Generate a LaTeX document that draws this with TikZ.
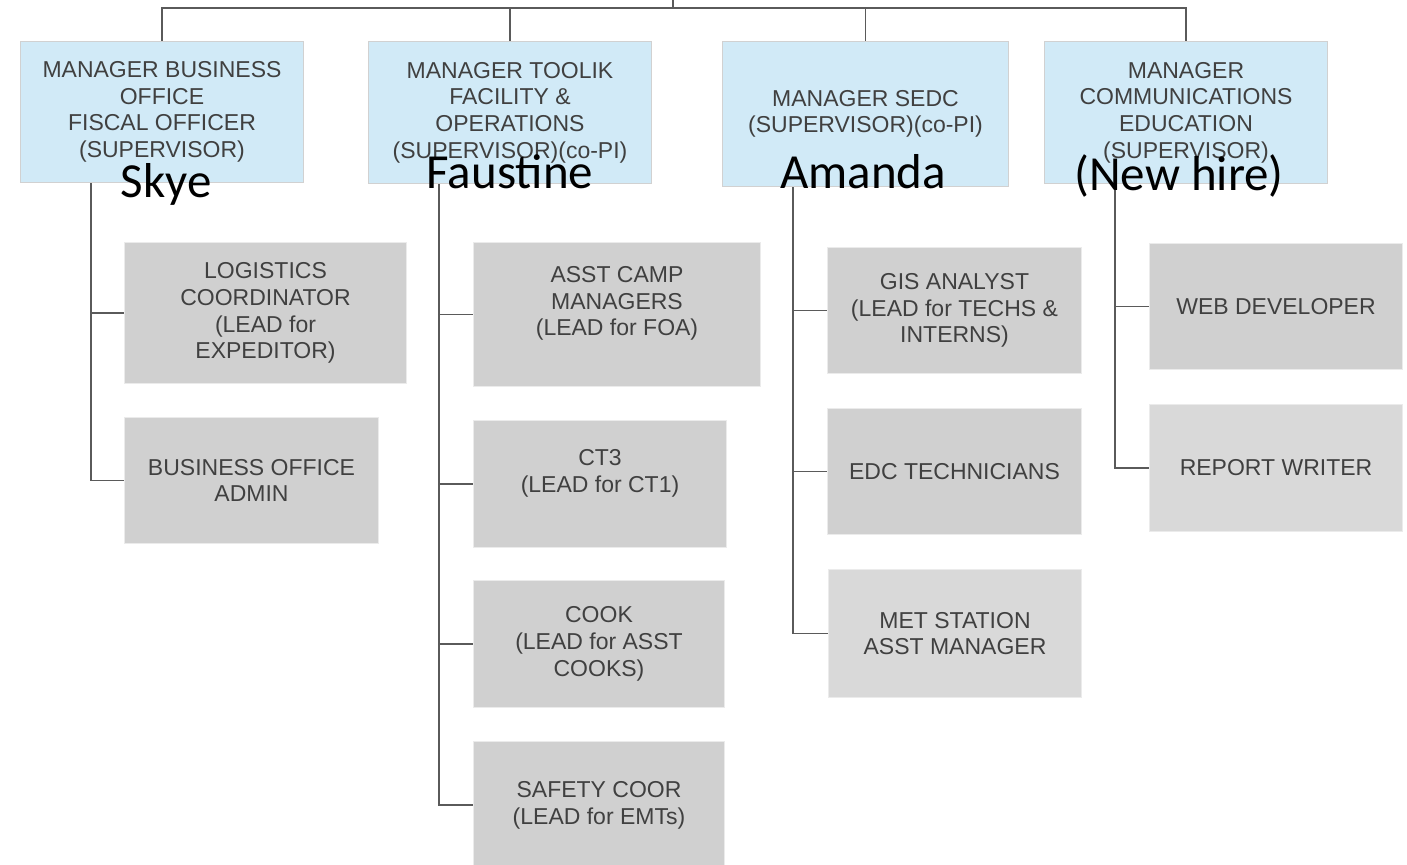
\documentclass[tikz,border=0pt]{standalone}
\usepackage{fontspec}
\setmainfont{Liberation Sans}
\newfontfamily\namefont{Carlito}
\usepackage{xcolor}
\usetikzlibrary{positioning}

\definecolor{mgrblue}{RGB}{209,234,247}
\definecolor{staffgray}{RGB}{208,208,208}
\definecolor{stafflight}{RGB}{217,217,217}
\definecolor{boxtext}{RGB}{64,64,64}
\definecolor{wire}{RGB}{90,90,90}

\begin{document}
\begin{tikzpicture}[x=1pt,y=-1pt,
    block_mgr/.style ={rectangle, draw=black!18, line width=1pt, fill=mgrblue,
      anchor=north west, inner sep=0pt, align=center, text=boxtext,
      font=\fontsize{23}{26.7}\selectfont},
    block_staff/.style ={block_mgr, draw=black!8, fill=staffgray},
    block_light/.style ={block_staff, fill=stafflight},
    who/.style ={anchor=base, inner sep=0pt, font=\namefont\fontsize{49}{52}\selectfont},
      line/.style ={draw, wire, line width=1.2pt}]
    \useasboundingbox (0,0) rectangle (1407,864);
    % managers - row 1
    \node [block_mgr, minimum width=283pt, minimum height=141pt] (mgrBus) at (20,41)
      {MANAGER BUSINESS\\OFFICE\\FISCAL OFFICER\\(SUPERVISOR)};
    \node [block_mgr, minimum width=283pt, minimum height=142pt] (mgrTool) at (368,41)
      {MANAGER TOOLIK\\FACILITY \&\\OPERATIONS\\(SUPERVISOR)(co-PI)};
    \node [block_mgr, minimum width=286pt, minimum height=145pt] (mgrSedc) at (722,41)
      {MANAGER SEDC\\(SUPERVISOR)(co-PI)};
    \node [block_mgr, minimum width=283pt, minimum height=142pt] (mgrComm) at (1044,41)
      {MANAGER\\COMMUNICATIONS\\EDUCATION\\(SUPERVISOR)};
    % business office staff
    \node [block_staff, minimum width=282pt, minimum height=141pt] (logCoord) at (124,242)
      {LOGISTICS\\COORDINATOR\\(LEAD for\\EXPEDITOR)};
    \node [block_staff, minimum width=254pt, minimum height=126pt] (busAdmin) at (124,417)
      {BUSINESS OFFICE\\ADMIN};
    % toolik staff
    \node [block_staff, minimum width=287pt, minimum height=144pt] (asstCamp) at (473,242)
      {ASST CAMP\\MANAGERS\\(LEAD for FOA)\\~};
    \node [block_staff, minimum width=253pt, minimum height=127pt] (ctThree) at (473,420)
      {CT3\\(LEAD for CT1)\\~};
    \node [block_staff, minimum width=251pt, minimum height=127pt] (cook) at (473,580)
      {COOK\\(LEAD for ASST\\COOKS)};
    \node [block_staff, minimum width=251pt, minimum height=127pt] (safety) at (473,741)
      {SAFETY COOR\\(LEAD for EMTs)};
    % sedc staff
    \node [block_staff, minimum width=254pt, minimum height=126pt] (gisAn) at (827,247)
      {GIS ANALYST\\(LEAD for TECHS \&\\INTERNS)};
    \node [block_staff, minimum width=254pt, minimum height=126pt] (edcTech) at (827,408)
      {EDC TECHNICIANS};
    \node [block_light, minimum width=253pt, minimum height=128pt] (metStn) at (828,569)
      {MET STATION\\ASST MANAGER};
    % communications staff
    \node [block_staff, minimum width=253pt, minimum height=126pt] (webDev) at (1149,243)
      {WEB DEVELOPER};
    \node [block_light, minimum width=253pt, minimum height=127pt] (repWr) at (1149,404)
      {REPORT WRITER};
    \coordinate (topIn) at (673,0);
    % connecting nodes with paths
    \begin{scope}[every path/.style=line]
      \path (topIn) -- ++(0,8);
      \path (mgrBus.north) -- ++(0,-33) -| (mgrComm.north);
      \path (mgrTool.north) -- ++(0,-33);
      \path (mgrSedc.north) -- ++(0,-33);
      \path ([xshift=71pt]mgrBus.south west) |- (logCoord.west);
      \path ([xshift=71pt]mgrBus.south west) |- (busAdmin.west);
      \path ([xshift=71pt]mgrTool.south west) |- (asstCamp.west);
      \path ([xshift=71pt]mgrTool.south west) |- (ctThree.west);
      \path ([xshift=71pt]mgrTool.south west) |- (cook.west);
      \path ([xshift=71pt]mgrTool.south west) |- (safety.west);
      \path ([xshift=71pt]mgrSedc.south west) |- (gisAn.west);
      \path ([xshift=71pt]mgrSedc.south west) |- (edcTech.west);
      \path ([xshift=71pt]mgrSedc.south west) |- (metStn.west);
      \path ([xshift=71pt]mgrComm.south west) |- (webDev.west);
      \path ([xshift=71pt]mgrComm.south west) |- (repWr.west);
    \end{scope}
    % names over the manager boxes
    \node [who] (nmSkye) at (166,197) {Skye};
    \node [who] (nmFaustine) at (510,188) {Faustine};
    \node [who] (nmAmanda) at (863,188) {Amanda};
    \node [who] (nmNew) at (1179,190) {(New hire)};
  \end{tikzpicture}
\end{document}
